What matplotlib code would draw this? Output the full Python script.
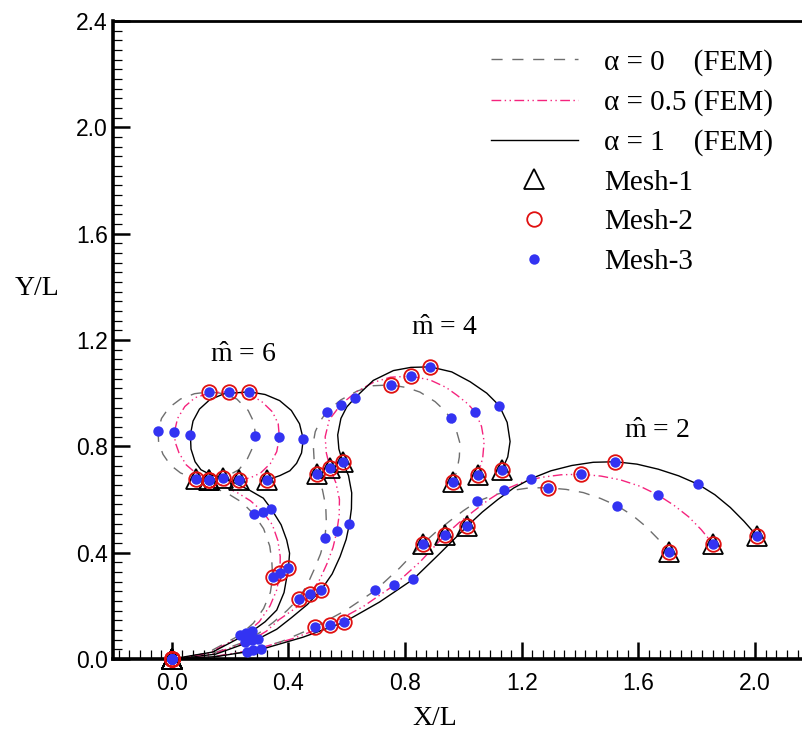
import numpy as np
import matplotlib
matplotlib.use("Agg")
import matplotlib.pyplot as plt
from matplotlib.lines import Line2D
from matplotlib.ticker import MultipleLocator, AutoMinorLocator

plt.rcParams['font.family'] = ['Liberation Serif', 'DejaVu Serif']
plt.rcParams['mathtext.fontset'] = 'custom'
plt.rcParams['mathtext.rm'] = 'Liberation Serif'
plt.rcParams['mathtext.it'] = 'Liberation Serif:italic'

# ================================
# DATA : FEM curves (X/L, Y/L)
# ================================
m2_a0 = np.array([(0.000, 0.000), (0.128, 0.007), (0.257, 0.027), (0.377, 0.066), (0.491, 0.120),
                  (0.598, 0.184), (0.698, 0.258), (0.781, 0.342), (0.860, 0.433), (0.905, 0.477),
                  (0.952, 0.518), (1.000, 0.558), (1.048, 0.593), (1.105, 0.617), (1.165, 0.634),
                  (1.228, 0.644), (1.290, 0.644), (1.352, 0.638), (1.411, 0.626), (1.470, 0.604),
                  (1.528, 0.576), (1.580, 0.540), (1.625, 0.499), (1.667, 0.452), (1.705, 0.401)])
m2_a05 = np.array([(0.000, 0.000), (0.140, 0.008), (0.280, 0.034), (0.413, 0.076), (0.542, 0.129),
                   (0.656, 0.197), (0.763, 0.278), (0.852, 0.366), (0.936, 0.465), (0.985, 0.513),
                   (1.035, 0.556), (1.085, 0.598), (1.139, 0.636), (1.200, 0.664), (1.265, 0.683),
                   (1.335, 0.693), (1.404, 0.695), (1.472, 0.688), (1.538, 0.674), (1.605, 0.650),
                   (1.667, 0.617), (1.722, 0.578), (1.772, 0.535), (1.815, 0.487), (1.856, 0.432)])
m2_a1 = np.array([(0.000, 0.000), (0.153, 0.009), (0.306, 0.036), (0.450, 0.082), (0.590, 0.138),
                  (0.712, 0.214), (0.828, 0.300), (0.920, 0.398), (1.013, 0.500), (1.065, 0.553),
                  (1.118, 0.600), (1.172, 0.643), (1.231, 0.678), (1.300, 0.708), (1.372, 0.728),
                  (1.445, 0.740), (1.521, 0.742), (1.595, 0.733), (1.668, 0.714), (1.738, 0.689),
                  (1.805, 0.657), (1.862, 0.618), (1.915, 0.570), (1.962, 0.518), (2.007, 0.462)])

m4_a0 = np.array([(0.000, 0.000), (0.125, 0.015), (0.251, 0.065), (0.300, 0.098), (0.348, 0.138),
                  (0.395, 0.182), (0.435, 0.227), (0.465, 0.280), (0.488, 0.336), (0.510, 0.395),
                  (0.525, 0.454), (0.530, 0.515), (0.528, 0.575), (0.517, 0.635), (0.499, 0.695),
                  (0.488, 0.752), (0.485, 0.812), (0.492, 0.855), (0.508, 0.893), (0.531, 0.930),
                  (0.580, 0.975), (0.636, 1.008), (0.691, 1.028), (0.751, 1.031), (0.806, 1.021),
                  (0.851, 1.004), (0.903, 0.968), (0.935, 0.935), (0.956, 0.906), (0.977, 0.855),
                  (0.988, 0.812), (0.986, 0.760), (0.978, 0.710), (0.965, 0.665)])
m4_a05 = np.array([(0.000, 0.000), (0.137, 0.017), (0.274, 0.071), (0.325, 0.105), (0.368, 0.148),
                   (0.425, 0.192), (0.474, 0.243), (0.508, 0.300), (0.532, 0.358), (0.553, 0.420),
                   (0.566, 0.480), (0.574, 0.540), (0.575, 0.600), (0.563, 0.662), (0.543, 0.717),
                   (0.530, 0.775), (0.526, 0.836), (0.540, 0.900), (0.579, 0.956), (0.630, 1.003),
                   (0.690, 1.040), (0.750, 1.060), (0.819, 1.064), (0.885, 1.050), (0.940, 1.022),
                   (0.977, 0.993), (1.015, 0.960), (1.041, 0.928), (1.062, 0.875), (1.071, 0.818),
                   (1.066, 0.755), (1.049, 0.692)])
m4_a1 = np.array([(0.000, 0.000), (0.150, 0.018), (0.297, 0.076), (0.360, 0.112), (0.410, 0.155),
                  (0.465, 0.205), (0.513, 0.261), (0.550, 0.320), (0.577, 0.385), (0.598, 0.450),
                  (0.609, 0.507), (0.616, 0.565), (0.617, 0.625), (0.606, 0.690), (0.586, 0.742),
                  (0.573, 0.790), (0.569, 0.843), (0.580, 0.905), (0.600, 0.948), (0.627, 0.981),
                  (0.691, 1.048), (0.760, 1.085), (0.820, 1.097), (0.886, 1.099), (0.960, 1.080),
                  (1.023, 1.043), (1.080, 1.000), (1.123, 0.953), (1.150, 0.890), (1.160, 0.818),
                  (1.152, 0.760), (1.132, 0.711)])

m6_a0 = np.array([(0.000, 0.000), (0.117, 0.020), (0.234, 0.090), (0.280, 0.135), (0.315, 0.190),
                  (0.338, 0.250), (0.346, 0.307), (0.343, 0.370), (0.336, 0.425), (0.315, 0.490),
                  (0.282, 0.544), (0.240, 0.590), (0.200, 0.617), (0.140, 0.648), (0.083, 0.676),
                  (0.030, 0.700), (-0.005, 0.730), (-0.030, 0.770), (-0.045, 0.815), (-0.047, 0.859),
                  (-0.035, 0.905), (-0.010, 0.945), (0.030, 0.978), (0.078, 0.998), (0.129, 1.005),
                  (0.180, 0.998), (0.223, 0.978), (0.262, 0.935), (0.282, 0.890), (0.287, 0.840),
                  (0.275, 0.790), (0.258, 0.750), (0.230, 0.712), (0.185, 0.685), (0.129, 0.673)])
m6_a05 = np.array([(0.000, 0.000), (0.128, 0.022), (0.256, 0.097), (0.300, 0.140), (0.337, 0.200),
                   (0.360, 0.260), (0.371, 0.325), (0.372, 0.385), (0.364, 0.445), (0.345, 0.505),
                   (0.312, 0.554), (0.270, 0.595), (0.226, 0.625), (0.180, 0.650), (0.129, 0.673),
                   (0.085, 0.697), (0.050, 0.730), (0.025, 0.775), (0.012, 0.815), (0.009, 0.853),
                   (0.020, 0.905), (0.045, 0.950), (0.080, 0.983), (0.135, 1.002), (0.197, 1.005),
                   (0.255, 0.997), (0.305, 0.972), (0.345, 0.930), (0.365, 0.885), (0.369, 0.834),
                   (0.360, 0.780), (0.338, 0.735), (0.305, 0.700), (0.270, 0.682), (0.230, 0.673)])
m6_a1 = np.array([(0.000, 0.000), (0.140, 0.026), (0.275, 0.104), (0.320, 0.140), (0.360, 0.184),
                  (0.385, 0.250), (0.400, 0.342), (0.404, 0.398), (0.394, 0.448), (0.375, 0.505),
                  (0.341, 0.565), (0.314, 0.605), (0.265, 0.636), (0.220, 0.660), (0.175, 0.681),
                  (0.130, 0.695), (0.100, 0.712), (0.080, 0.742), (0.066, 0.790), (0.064, 0.844),
                  (0.073, 0.895), (0.095, 0.940), (0.130, 0.975), (0.180, 0.998), (0.266, 1.005),
                  (0.320, 0.995), (0.370, 0.972), (0.410, 0.935), (0.438, 0.885), (0.451, 0.827),
                  (0.445, 0.775), (0.428, 0.736), (0.405, 0.708), (0.371, 0.690), (0.326, 0.673)])

# ================================
# DATA : mesh nodes (every node = Mesh-3, every 2nd = Mesh-2, every 4th = Mesh-1)
# ================================
n2_a0 = np.array([(0.000, 0.000), (0.257, 0.027), (0.491, 0.120), (0.698, 0.258), (0.860, 0.433),
                  (1.048, 0.593), (1.290, 0.644), (1.528, 0.576), (1.705, 0.401)])
n2_a05 = np.array([(0.000, 0.000), (0.280, 0.034), (0.542, 0.129), (0.763, 0.278), (0.936, 0.465),
                   (1.139, 0.636), (1.404, 0.695), (1.667, 0.617), (1.856, 0.432)])
n2_a1 = np.array([(0.000, 0.000), (0.306, 0.036), (0.590, 0.138), (0.828, 0.300), (1.013, 0.500),
                  (1.231, 0.678), (1.521, 0.740), (1.805, 0.657), (2.007, 0.462)])
n4_a0 = np.array([(0.000, 0.000), (0.251, 0.065), (0.435, 0.227), (0.525, 0.454), (0.499, 0.695),
                  (0.531, 0.930), (0.751, 1.031), (0.956, 0.906), (0.965, 0.665)])
n4_a05 = np.array([(0.000, 0.000), (0.274, 0.071), (0.474, 0.243), (0.566, 0.480), (0.543, 0.717),
                   (0.579, 0.956), (0.819, 1.064), (1.041, 0.928), (1.049, 0.692)])
n4_a1 = np.array([(0.000, 0.000), (0.297, 0.076), (0.513, 0.261), (0.609, 0.507), (0.586, 0.742),
                  (0.627, 0.981), (0.886, 1.099), (1.123, 0.953), (1.132, 0.711)])
n6_a0 = np.array([(0.000, 0.000), (0.234, 0.090), (0.346, 0.307), (0.282, 0.544), (0.083, 0.676),
                  (-0.047, 0.859), (0.129, 1.005), (0.287, 0.840), (0.129, 0.673)])
n6_a05 = np.array([(0.000, 0.000), (0.256, 0.097), (0.371, 0.325), (0.312, 0.554), (0.129, 0.673),
                   (0.009, 0.853), (0.197, 1.005), (0.369, 0.834), (0.230, 0.673)])
n6_a1 = np.array([(0.000, 0.000), (0.275, 0.104), (0.400, 0.342), (0.341, 0.565), (0.175, 0.681),
                  (0.064, 0.844), (0.266, 1.005), (0.451, 0.827), (0.326, 0.673)])

m_labels = [r'$\hat{\mathrm{m}}$ = 6', r'$\hat{\mathrm{m}}$ = 4', r'$\hat{\mathrm{m}}$ = 2']
m_label_pos = [(0.245, 1.14), (0.934, 1.242), (1.663, 0.854)]

legend_labels = ['α = 0    (FEM)', 'α = 0.5 (FEM)', 'α = 1    (FEM)', 'Mesh-1', 'Mesh-2', 'Mesh-3']

# ================================
# STYLE
# ================================
GRAY = '#6e6e6e'
PINK = '#f5237d'
BLUE = '#3333f2'
style_a0 = dict(color=GRAY, lw=1.0, ls=(0, (8, 7)))
style_a05 = dict(color=PINK, lw=1.0, ls=(0, (7, 2.5, 1, 2.5, 1, 2.5)))
style_a1 = dict(color='black', lw=1.0, ls='-')
tri_style = dict(ls='none', marker='^', ms=14, mfc='none', mec='black', mew=1.3)
circ_style = dict(ls='none', marker='o', ms=10.5, mfc='none', mec='#e01010', mew=1.3)
dot_style = dict(ls='none', marker='o', ms=7.5, mfc=BLUE, mec=BLUE, mew=0)

curves = [(m2_a0, style_a0), (m2_a05, style_a05), (m2_a1, style_a1),
          (m4_a0, style_a0), (m4_a05, style_a05), (m4_a1, style_a1),
          (m6_a0, style_a0), (m6_a05, style_a05), (m6_a1, style_a1)]
nodes = [n2_a0, n2_a05, n2_a1, n4_a0, n4_a05, n4_a1, n6_a0, n6_a05, n6_a1]

# ================================
# PLOT
# ================================
fig = plt.figure(figsize=(8.03, 7.35), dpi=100)
ax = fig.add_axes([113.4 / 803, 76 / 735, 689.6 / 803, 638 / 735])

for pts, st in curves:
    ax.plot(pts[:, 0], pts[:, 1], zorder=2, **st)
for nd in nodes:
    ax.plot(nd[::4, 0], nd[::4, 1], zorder=3, clip_on=False, **tri_style)
    ax.plot(nd[::2, 0], nd[::2, 1], zorder=4, clip_on=False, **circ_style)
    ax.plot(nd[:, 0], nd[:, 1], zorder=5, clip_on=False, **dot_style)

for txt, (x, y) in zip(m_labels, m_label_pos):
    ax.text(x, y, txt, fontsize=20, ha='center', va='center')

ax.set_xlim(-0.2, (803 - 171.7) / 291.7)
ax.set_ylim(0.0, 2.4)
ax.xaxis.set_major_locator(MultipleLocator(0.4))
ax.yaxis.set_major_locator(MultipleLocator(0.4))
ax.xaxis.set_minor_locator(AutoMinorLocator(11))
ax.yaxis.set_minor_locator(AutoMinorLocator(11))
ax.xaxis.set_major_formatter(plt.FormatStrFormatter('%.1f'))
ax.yaxis.set_major_formatter(plt.FormatStrFormatter('%.1f'))

ax.tick_params(which='both', direction='in', top=False, right=False)
ax.tick_params(which='major', length=12, width=1.8)
ax.tick_params(which='minor', length=6.5, width=0.9)
ax.tick_params(axis='x', which='major', pad=9)
ax.tick_params(axis='y', which='major', pad=4)
for lab in ax.get_xticklabels() + ax.get_yticklabels():
    lab.set_fontfamily('Liberation Sans')
    lab.set_fontsize(16.5)

ax.spines['right'].set_visible(False)
ax.spines['left'].set_linewidth(2.6)
ax.spines['bottom'].set_linewidth(2.6)
ax.spines['top'].set_linewidth(2.0)

ax.set_xlabel('X/L', fontsize=20)
ax.xaxis.label.set_va('center')
ax.xaxis.set_label_coords(0.466, -0.094)
ax.set_ylabel('Y/L', fontsize=20, rotation=0)
ax.yaxis.label.set_va('center')
ax.yaxis.label.set_ha('center')
ax.yaxis.set_label_coords(-0.111, 0.58)

handles = [Line2D([], [], **style_a0), Line2D([], [], **style_a05), Line2D([], [], **style_a1),
           Line2D([], [], **tri_style), Line2D([], [], **circ_style), Line2D([], [], **dot_style)]
ax.legend(handles, legend_labels, loc='upper left', bbox_to_anchor=(0.547, 0.956),
          frameon=False, fontsize=21, handlelength=2.98, handletextpad=0.92,
          labelspacing=0.45, borderpad=0, borderaxespad=0, numpoints=1)

fig.savefig('out.png', dpi=100)
